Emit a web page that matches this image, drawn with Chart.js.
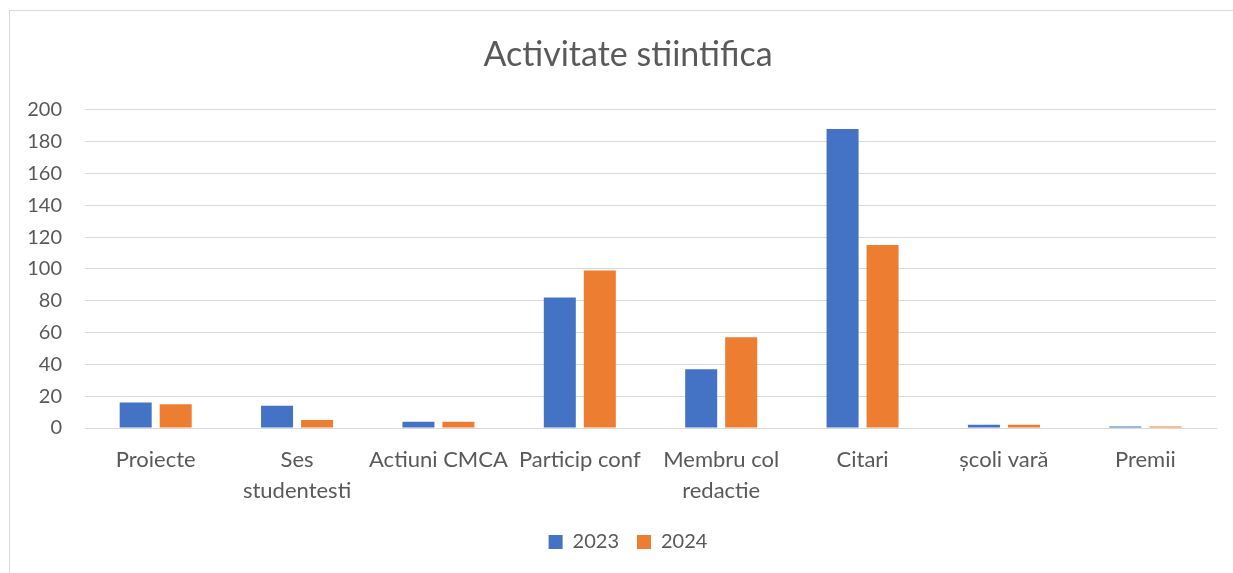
<!DOCTYPE html>
<html>
<head>
<meta charset="utf-8">
<script src="https://cdn.jsdelivr.net/npm/chart.js@4"></script>
<style>
    html, body { margin: 0; padding: 0; background: #fff; overflow: hidden; }
    #frame {
        position: absolute; left: 9px; top: 10px; width: 1400px; height: 700px;
        border-left: 1px solid #d9d9d9; border-top: 1px solid #d9d9d9;
    }
    /* chart continues past the right edge of the crop, like the original */
    #wrap { position: absolute; left: 0; top: 0; width: 1256px; height: 573px; }
</style>
</head>
<body>
<div id="frame"></div>
<div id="wrap"><canvas id="activityChart"></canvas></div>
<script>
// Activitate stiintifica - 2023 vs 2024

const categories = [
    'Proiecte',
    ['Ses', 'studentesti'],
    'Actiuni CMCA',
    'Particip conf',
    ['Membru col', 'redactie'],
    'Citari',
    'școli vară',
    'Premii'
];
const values2023 = [16, 14, 4, 82, 37, 188, 2, 1];
const values2024 = [15, 5, 4, 99, 57, 115, 2, 1];
const yTicks = [0, 20, 40, 60, 80, 100, 120, 140, 160, 180, 200];

const textColor = '#595959';
const gridColor = '#d9d9d9';
const fontFamily = "Lato, 'Open Sans', sans-serif";

new Chart(document.getElementById('activityChart'), {
    type: 'bar',
    data: {
        labels: categories,
        datasets: [
            {
                label: '2023',
                data: values2023,
                backgroundColor: '#4472C4',
                borderWidth: 0,
                categoryPercentage: 0.566,
                barPercentage: 0.8
            },
            {
                label: '2024',
                data: values2024,
                backgroundColor: '#ED7D31',
                borderWidth: 0,
                categoryPercentage: 0.566,
                barPercentage: 0.8
            }
        ]
    },
    options: {
        responsive: true,
        maintainAspectRatio: false,
        animation: false,
        layout: { padding: { left: 0, right: 0, top: 0, bottom: 11 } },
        plugins: {
            title: {
                display: true,
                text: 'Activitate stiintifica',
                color: textColor,
                font: { family: fontFamily, size: 34, weight: 'normal', lineHeight: 1.2 },
                padding: { top: 35, bottom: 34 }
            },
            legend: {
                position: 'bottom',
                labels: {
                    color: textColor,
                    boxWidth: 14,
                    boxHeight: 14,
                    padding: 18,
                    font: { family: fontFamily, size: 20 }
                }
            },
            tooltip: { enabled: false }
        },
        scales: {
            x: {
                grid: { display: false, drawTicks: false },
                border: { color: gridColor, width: 1 },
                ticks: {
                    color: textColor,
                    padding: 16.6,
                    maxRotation: 0,
                    autoSkip: false,
                    font: { family: fontFamily, size: 22, lineHeight: 1.4 }
                },
                afterFit: function (scale) { scale.height = 86; }
            },
            y: {
                min: 0,
                max: 200,
                afterBuildTicks: function (scale) {
                    scale.ticks = yTicks.map(v => ({ value: v }));
                },
                grid: { color: gridColor, lineWidth: 1, drawTicks: false },
                border: { display: false },
                ticks: {
                    color: textColor,
                    padding: 23,
                    font: { family: fontFamily, size: 20 }
                },
                afterFit: function (scale) { scale.width = 85; }
            },
            // empty right-hand spacer so the plot ends where the original does
            spacer: {
                type: 'linear',
                position: 'right',
                grid: { display: false, drawTicks: false },
                border: { display: false },
                ticks: { display: false },
                afterFit: function (scale) { scale.width = 40; }
            }
        }
    }
});
</script>
</body>
</html>
